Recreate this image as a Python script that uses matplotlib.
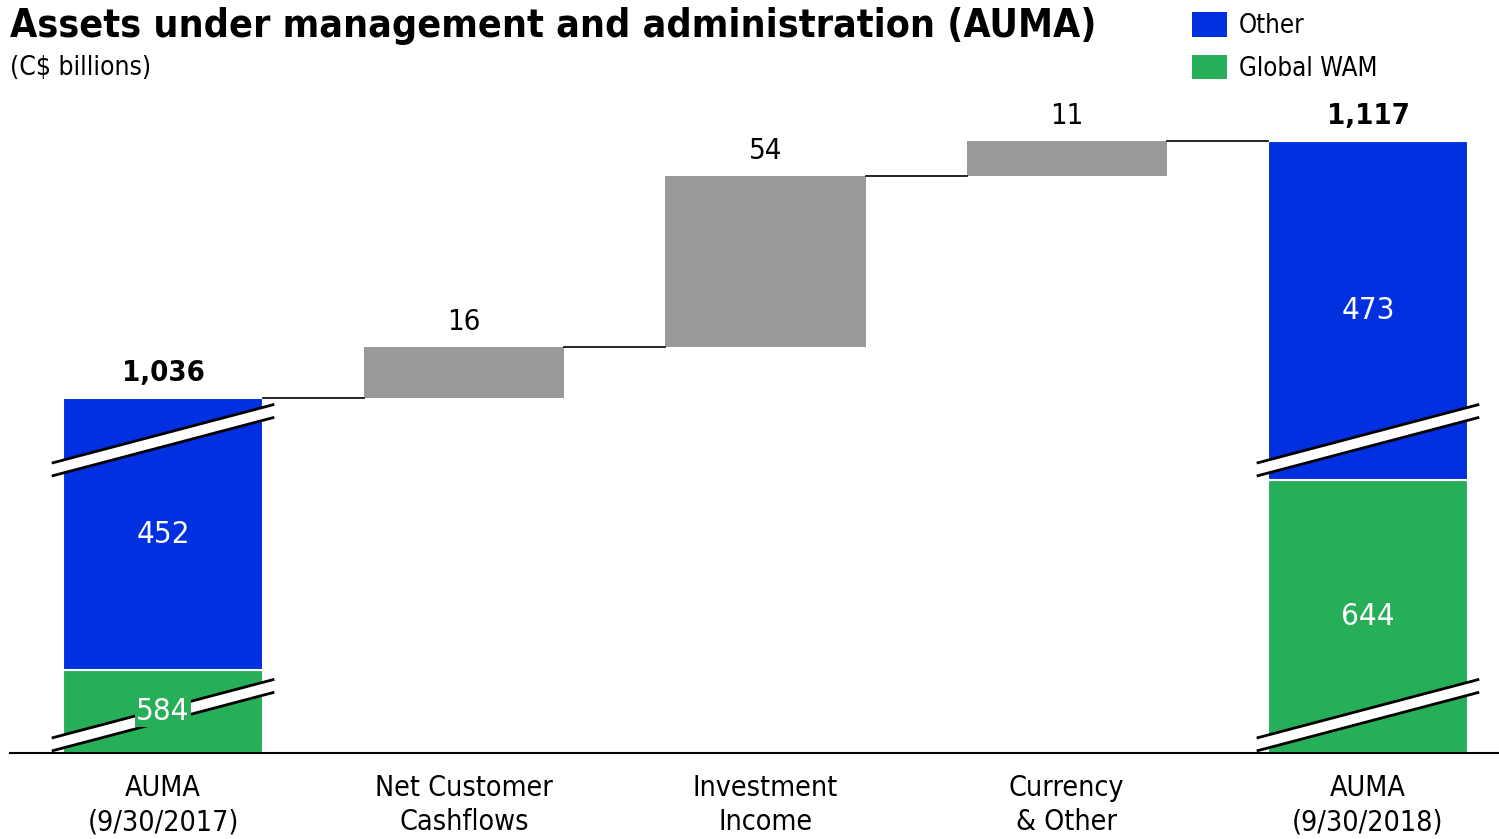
import matplotlib
matplotlib.use('Agg')
import matplotlib.pyplot as plt
import matplotlib.transforms as mtransforms
from matplotlib.patches import Patch, Polygon

plt.rcParams['font.family'] = ['DejaVu Sans']
plt.rcParams['font.stretch'] = 'condensed'

# data (C$ billions)
categories = ['AUMA\n(9/30/2017)', 'Net Customer\nCashflows', 'Investment\nIncome',
              'Currency\n& Other', 'AUMA\n(9/30/2018)']
start_other, start_wam = 452, 584
end_other, end_wam = 473, 644
changes = [16, 54, 11]

BLUE = '#0030E0'
GREEN = '#27AE58'
GREY = '#999999'

start_total = start_other + start_wam
end_total = end_other + end_wam

fig = plt.figure(figsize=(14.99, 8.39), dpi=100)
ax = fig.add_axes([10 / 1499, 86 / 839, 1489 / 1499, 653 / 839])
ax.set_xlim(-0.508, 4.435)
ax.set_ylim(924, 1130)
ymin, ymax = ax.get_ylim()
width = 0.665

# the two AUMA bars are broken: split drawn at a fixed share of the axis
def stacked(x, wam, other, split_frac):
    total = wam + other
    split = ymin + split_frac * (ymax - ymin)
    ax.bar(x, split - ymin, bottom=ymin, width=width, color=GREEN,
           edgecolor='white', linewidth=1.5, zorder=2)
    ax.bar(x, total - split, bottom=split, width=width, color=BLUE,
           edgecolor='white', linewidth=1.5, zorder=2)
    ax.text(x, (ymin + split) / 2, f'{wam}', color='white', fontsize=22.5,
            ha='center', va='center', zorder=5,
            bbox=dict(facecolor=GREEN, edgecolor='none', pad=1))
    ax.text(x, (split + total) / 2, f'{other}', color='white', fontsize=22.5,
            ha='center', va='center', zorder=5)
    ax.annotate(f'{total:,}', (x, total), xytext=(0, 8), textcoords='offset points',
                ha='center', va='bottom', fontsize=21, fontweight='bold')

# break marks
trans = mtransforms.blended_transform_factory(ax.transData, ax.transAxes)
def brk(x, yfrac):
    half = 0.365
    slope = 0.0888 / 0.73
    gap = 0.0099
    xs = [x - half, x + half]
    ys = [yfrac - slope * half, yfrac + slope * half]
    poly = Polygon([(xs[0], ys[0] - gap), (xs[1], ys[1] - gap),
                    (xs[1], ys[1] + gap), (xs[0], ys[0] + gap)],
                   closed=True, facecolor='white', edgecolor='none',
                   transform=trans, zorder=3, clip_on=False)
    ax.add_patch(poly)
    for g in (gap, -gap):
        ax.plot(xs, [ys[0] + g, ys[1] + g], color='black', lw=2,
                transform=trans, zorder=4, clip_on=False)

stacked(0, start_wam, start_other, 0.127)
stacked(4, end_wam, end_other, 0.418)
brk(0, 0.479)
brk(0, 0.058)
brk(4, 0.479)
brk(4, 0.058)

# waterfall steps
level = start_total
levels = [level]
for i, d in enumerate(changes, start=1):
    ax.bar(i, d, bottom=level, width=width, color=GREY, zorder=2)
    ax.annotate(f'{d}', (i, level + d), xytext=(0, 8), textcoords='offset points',
                ha='center', va='bottom', fontsize=21)
    level += d
    levels.append(level)

for i, lv in enumerate(levels):
    ax.plot([i + width / 2, i + 1 - width / 2], [lv, lv], color='black', lw=1.2)

for s in ['top', 'right', 'left']:
    ax.spines[s].set_visible(False)
ax.spines['bottom'].set_linewidth(1.5)
ax.set_yticks([])
ax.set_xticks(range(len(categories)))
ax.set_xticklabels(categories, fontsize=20.5, linespacing=1.3)
ax.tick_params(axis='x', length=0, pad=15)

fig.text(10 / 1499, 1 - 7 / 839, 'Assets under management and administration (AUMA)',
         fontsize=28.2, fontweight='bold', ha='left', va='top')
fig.text(10 / 1499, 1 - 55 / 839, '(C$ billions)', fontsize=19, ha='left', va='top')

handles = [Patch(facecolor=BLUE), Patch(facecolor=GREEN)]
fig.legend(handles, ['Other', 'Global WAM'], loc='upper left',
           bbox_to_anchor=(1182 / 1499, 1 - 2 / 839), frameon=False, fontsize=18.5,
           handlelength=1.35, handleheight=1.1, labelspacing=0.6, handletextpad=0.45,
           borderaxespad=0)

fig.savefig('out.png', dpi=100)
